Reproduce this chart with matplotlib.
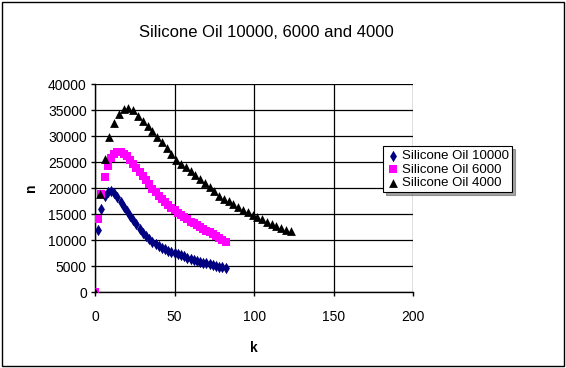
import matplotlib
matplotlib.use('Agg')
from matplotlib import pyplot as plt
from matplotlib.patches import Rectangle

plt.rcParams['font.family'] = ['Liberation Sans', 'DejaVu Sans']

#----------------------------------------------------
k10000 = list(range(0, 84, 2))
n10000 = [0, 12000, 16000, 18500, 19300, 19400, 19000, 18200, 17300, 16400,
          15600, 14700, 13800, 13000, 12200, 11400, 10800, 10200, 9700, 9250,
          8850, 8500, 8200, 7950, 7750, 7550, 7300, 7050, 6850, 6600,
          6400, 6200, 6000, 5800, 5650, 5500, 5350, 5200, 5050, 4900,
          4750, 4600]

k6000 = list(range(0, 84, 2))
n6000 = [0, 14000, 18900, 22200, 24200, 25700, 26600, 27000, 26900, 26600,
         26100, 25400, 24700, 23900, 23100, 22300, 21500, 20700, 19900, 19200,
         18500, 17900, 17300, 16700, 16200, 15700, 15250, 14800, 14350, 13950,
         13550, 13200, 12850, 12500, 12150, 11800, 11450, 11100, 10750, 10400,
         10050, 9700]

k4000 = list(range(0, 126, 3))
n4000 = [0, 18800, 25500, 29800, 32500, 34300, 35300, 35400, 35000, 33800,
         32900, 31900, 30900, 29900, 28850, 27700, 26550, 25450, 24700, 24000,
         23300, 22550, 21750, 20950, 20150, 19350, 18500, 17950, 17450, 16900,
         16350, 15800, 15300, 14850, 14400, 13950, 13500, 13100, 12700, 12350,
         12000, 11650]

labels = ['Silicone Oil 10000', 'Silicone Oil 6000', 'Silicone Oil 4000']
#----------------------------------------------------

fig = plt.figure(figsize=(5.66, 3.68), dpi=100)
fig.patches.append(Rectangle((0.004, 0.005), 0.992, 0.99, transform=fig.transFigure,
                             fill=False, edgecolor='black', linewidth=1.0))

ax = fig.add_axes([0.168, 0.2065, 0.562, 0.565])
ax.scatter(k10000, n10000, marker='d', s=34, color='#000080', label=labels[0], zorder=3, linewidths=0)
ax.scatter(k6000, n6000, marker='s', s=30, color='#ff00ff', label=labels[1], zorder=3, linewidths=0)
ax.scatter(k4000, n4000, marker='^', s=40, color='black', label=labels[2], zorder=3, linewidths=0)

ax.set_xlim(0, 200)
ax.set_ylim(0, 40000)
ax.set_xticks(range(0, 201, 50))
ax.set_yticks(range(0, 40001, 5000))
ax.grid(True, color='black', linewidth=0.9)
ax.set_axisbelow(True)
for s in ['top', 'right']:
    ax.spines[s].set_visible(False)
for s in ['left', 'bottom']:
    ax.spines[s].set_linewidth(1.0)
ax.tick_params(direction='out', length=3, width=1, labelsize=10)
ax.tick_params(axis='y', pad=3)
ax.tick_params(axis='x', pad=10)
ax.set_xlabel('k', fontsize=10, fontweight='bold', labelpad=12)
ax.set_ylabel('n', fontsize=10, fontweight='bold', labelpad=7)

fig.text(0.47, 0.913, 'Silicone Oil 10000, 6000 and 4000', ha='center', va='center', fontsize=12)

leg = ax.legend(loc='upper left', bbox_to_anchor=(0.905, 0.7), fontsize=9.5, frameon=True,
                fancybox=False, shadow=True, edgecolor='black', handletextpad=0.2,
                handlelength=1.0, borderpad=0.25, labelspacing=0.1, scatterpoints=1,
                borderaxespad=0)
leg.get_frame().set_linewidth(0.8)

plt.savefig('out.png', dpi=100)
